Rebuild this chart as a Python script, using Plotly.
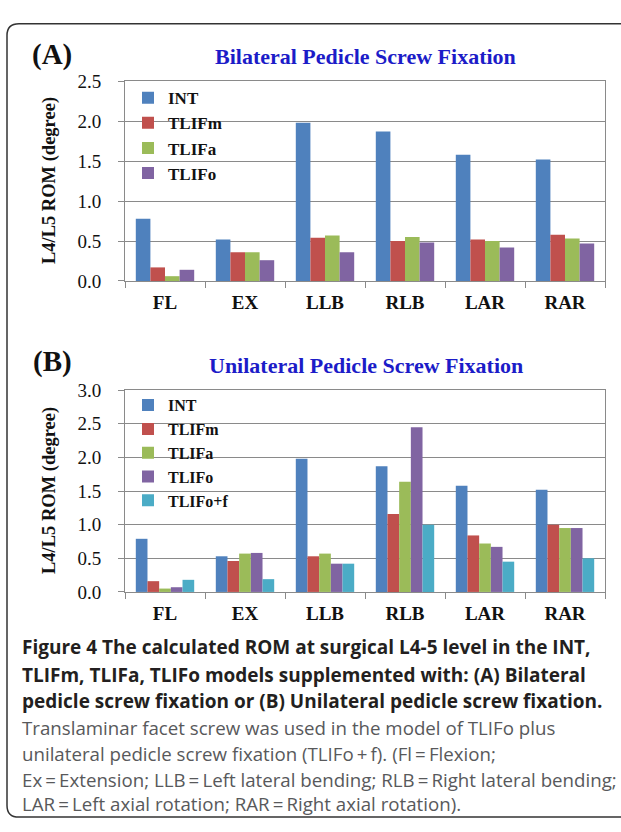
import plotly.graph_objects as go

W, H = 621, 832

categories = ["FL", "EX", "LLB", "RLB", "LAR", "RAR"]

# Panel A: Bilateral pedicle screw fixation
a_series = ["INT", "TLIFm", "TLIFa", "TLIFo"]
a_INT = [0.78, 0.52, 1.98, 1.87, 1.58, 1.52]
a_TLIFm = [0.17, 0.36, 0.54, 0.50, 0.52, 0.58]
a_TLIFa = [0.06, 0.36, 0.57, 0.55, 0.50, 0.53]
a_TLIFo = [0.14, 0.26, 0.36, 0.48, 0.42, 0.47]

# Panel B: Unilateral pedicle screw fixation
b_series = ["INT", "TLIFm", "TLIFa", "TLIFo", "TLIFo+f"]
b_INT = [0.79, 0.53, 1.98, 1.87, 1.58, 1.52]
b_TLIFm = [0.16, 0.46, 0.53, 1.16, 0.84, 1.00]
b_TLIFa = [0.05, 0.57, 0.57, 1.64, 0.72, 0.95]
b_TLIFo = [0.07, 0.58, 0.42, 2.45, 0.67, 0.95]
b_TLIFof = [0.18, 0.19, 0.42, 1.00, 0.45, 0.50]

y_ticks_a = [0.0, 0.5, 1.0, 1.5, 2.0, 2.5]
y_ticks_b = [0.0, 0.5, 1.0, 1.5, 2.0, 2.5, 3.0]

colors = {"INT": "#4F81BD", "TLIFm": "#C0504D", "TLIFa": "#9BBB59",
          "TLIFo": "#8064A2", "TLIFo+f": "#4BACC6"}

SERIF = "Liberation Serif, Times New Roman, serif"
SANS = "Open Sans, sans-serif"


def px_x(x):
    return x / W


def px_y(y):
    return 1 - y / H


fig = go.Figure()

for name, vals in zip(a_series, [a_INT, a_TLIFm, a_TLIFa, a_TLIFo]):
    fig.add_trace(go.Bar(x=categories, y=vals, name=f"<b>{name}</b>",
                         marker=dict(color=colors[name], line=dict(width=0)),
                         xaxis="x", yaxis="y", legend="legend"))

for name, vals in zip(b_series, [b_INT, b_TLIFm, b_TLIFa, b_TLIFo, b_TLIFof]):
    fig.add_trace(go.Bar(x=categories, y=vals, name=f"<b>{name}</b>",
                         marker=dict(color=colors[name], line=dict(width=0)),
                         xaxis="x2", yaxis="y2", legend="legend2"))

GRID = "#8a8a8a"

xcommon = dict(type="category", tickmode="array", tickvals=categories,
               ticktext=[f"<b>{c}</b>" for c in categories],
               tickson="boundaries", ticks="outside", ticklen=6,
               tickcolor=GRID, showline=True, linecolor=GRID, linewidth=1,
               mirror=True, showgrid=False,
               tickfont=dict(family=SERIF, size=19, color="#111"),
               ticklabelstandoff=4, fixedrange=True)

ycommon = dict(showgrid=True, gridcolor=GRID, gridwidth=1, zeroline=False,
               ticks="outside", ticklen=6, tickcolor=GRID, showline=True,
               linecolor=GRID, linewidth=1, mirror=True, tickformat=".1f",
               tickfont=dict(family=SERIF, size=19, color="#111"),
               ticklabelstandoff=13, fixedrange=True)

fig.update_layout(
    width=W, height=H,
    margin=dict(l=0, r=0, t=0, b=0),
    paper_bgcolor="white", plot_bgcolor="white",
    barmode="group", bargap=0.27, bargroupgap=0,
    xaxis=dict(domain=[px_x(125), px_x(605)], anchor="y", **xcommon),
    yaxis=dict(domain=[px_y(278), px_y(73)], anchor="x", range=[0, 2.5],
               tickvals=y_ticks_a, **ycommon),
    xaxis2=dict(domain=[px_x(125), px_x(605)], anchor="y2", **xcommon),
    yaxis2=dict(domain=[px_y(597), px_y(390)], anchor="x2", range=[0, 3.0],
                tickvals=y_ticks_b, **ycommon),
    legend=dict(x=px_x(128), xanchor="left", y=px_y(72), yanchor="top",
                bgcolor="rgba(0,0,0,0)", borderwidth=0, tracegroupgap=0,
                font=dict(family=SERIF, size=17, color="#111")),
    legend2=dict(x=px_x(128), xanchor="left", y=px_y(388), yanchor="top",
                 bgcolor="rgba(0,0,0,0)", borderwidth=0, tracegroupgap=0,
                 font=dict(family=SERIF, size=16, color="#111")),
    showlegend=True,
)

# White panels behind the legends (hide gridlines there, as in the original)
fig.add_shape(type="rect", xref="paper", yref="paper", layer="between",
              x0=px_x(126), x1=px_x(251), y0=px_y(180), y1=px_y(74),
              fillcolor="white", line=dict(width=0))
fig.add_shape(type="rect", xref="paper", yref="paper", layer="between",
              x0=px_x(126), x1=px_x(268), y0=px_y(514), y1=px_y(391),
              fillcolor="white", line=dict(width=0))

annotations = []
# Panel labels and titles
annotations.append(dict(x=px_x(52), y=px_y(46), xref="paper", yref="paper",
                        text="<b>(A)</b>", showarrow=False, xanchor="center", yanchor="middle",
                        font=dict(family=SERIF, size=29, color="#111")))
annotations.append(dict(x=px_x(366), y=px_y(48), xref="paper", yref="paper",
                        text="<b>Bilateral Pedicle Screw Fixation</b>", showarrow=False,
                        xanchor="center", yanchor="middle",
                        font=dict(family=SERIF, size=22, color="#1c1cc8")))
annotations.append(dict(x=px_x(52), y=px_y(361), xref="paper", yref="paper",
                        text="<b>(B)</b>", showarrow=False, xanchor="center", yanchor="middle",
                        font=dict(family=SERIF, size=29, color="#111")))
annotations.append(dict(x=px_x(366), y=px_y(365), xref="paper", yref="paper",
                        text="<b>Unilateral Pedicle Screw Fixation</b>", showarrow=False,
                        xanchor="center", yanchor="middle",
                        font=dict(family=SERIF, size=22, color="#1c1cc8")))
# Y-axis titles
for yc in [(73 + 278) / 2, (390 + 597) / 2]:
    annotations.append(dict(x=px_x(49), y=px_y(yc), xref="paper", yref="paper",
                            text="<b>L4/L5 ROM (degree)</b>", showarrow=False,
                            textangle=-90, xanchor="center", yanchor="middle",
                            font=dict(family=SERIF, size=18.5, color="#111")))

# Caption
caption_bold = [
    "Figure 4 The calculated ROM at surgical L4-5 level in the INT,",
    "TLIFm, TLIFa, TLIFo models supplemented with: (A) Bilateral",
    "pedicle screw fixation or (B) Unilateral pedicle screw fixation.",
]
caption_reg = [
    "Translaminar facet screw was used in the model of TLIFo plus",
    "unilateral pedicle screw fixation (TLIFo\u2009+\u2009f). (Fl\u2009=\u2009Flexion;",
    "Ex\u2009=\u2009Extension; LLB\u2009=\u2009Left lateral bending; RLB\u2009=\u2009Right lateral bending;",
    "LAR\u2009=\u2009Left axial rotation; RAR\u2009=\u2009Right axial rotation).",
]
line_y = [654, 682, 709, 736, 763, 789, 814]
for i, t in enumerate(caption_bold):
    annotations.append(dict(x=px_x(20), y=px_y(line_y[i]), xref="paper", yref="paper",
                            text=f"<b>{t}</b>", showarrow=False, xanchor="left",
                            yanchor="middle", font=dict(family=SANS, size=19, color="#231f20")))
for j, t in enumerate(caption_reg):
    annotations.append(dict(x=px_x(20), y=px_y(line_y[3 + j]), xref="paper", yref="paper",
                            text=t, showarrow=False, xanchor="left",
                            yanchor="middle", font=dict(family=SANS, size=18.7, color="#58595b")))

fig.update_layout(annotations=annotations)

# Rounded frame around the figure (right side runs off the page)
x0, y0, y1, r = 7, 14, 828, 12
path = (f"M {px_x(640)},{px_y(y0)} L {px_x(x0 + r)},{px_y(y0)} "
        f"Q {px_x(x0)},{px_y(y0)} {px_x(x0)},{px_y(y0 + r)} "
        f"L {px_x(x0)},{px_y(y1 - r)} "
        f"Q {px_x(x0)},{px_y(y1)} {px_x(x0 + r)},{px_y(y1)} "
        f"L {px_x(640)},{px_y(y1)}")
fig.add_shape(type="path", path=path, xref="paper", yref="paper",
              line=dict(color="#333", width=1.5), layer="above")

fig.write_html("out.html")
